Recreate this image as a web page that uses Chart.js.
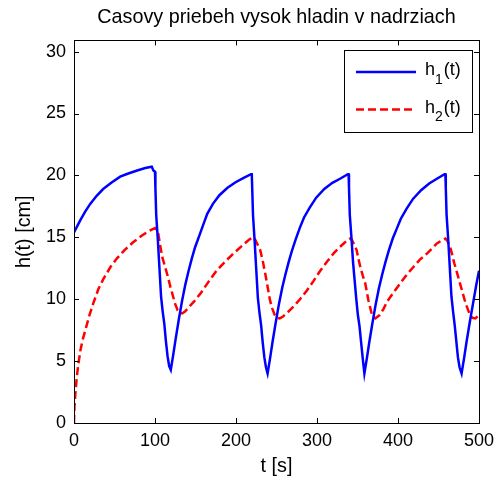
<!DOCTYPE html>
<html><head><meta charset="utf-8">
<script src="https://cdn.jsdelivr.net/npm/chart.js@4"></script>
<style>html,body{margin:0;padding:0;background:#fff}canvas{display:block}</style>
</head><body>
<canvas id="c" width="502" height="479"></canvas>
<script>
const h1Time = [0,4,8,14,20,28,36,46,57,67,78,88,96,98,100,
  100.5,101.5,103.5,105.5,107.5,109.5,111.5,113.5,115.5,117.5,119.5,
  122.5,125.5,129.5,133.5,137.5,141.5,145.5,149.5,154.5,159.5,164.5,171.5,179.5,189.5,199.5,209.5,218.5,219.5,
  220,221,223,225,227,229,231,233,235,237,239,
  242,245,249,253,257,261,265,269,274,279,284,291,299,309,319,329,338,339,
  339.5,340.5,342.5,344.5,346.5,348.5,350.5,352.5,354.5,356.5,358.5,
  361.5,364.5,368.5,372.5,376.5,380.5,384.5,388.5,393.5,398.5,403.5,410.5,418.5,428.5,438.5,448.5,457.5,458.5,
  459,460,462,464,466,468,470,472,474,476,478.5,
  481.5,484.5,488.5,492.5,496.5,500];
const h1Values = [15.4,15.9,16.4,17.1,17.7,18.35,18.9,19.4,19.9,20.15,20.4,20.6,20.7,20.4,20.3,
  19.0,16.8,14.8,12.5,10.2,9.0,8.0,6.6,5.4,4.6,4.3,
  5.5,6.8,8.4,9.9,11.2,12.3,13.3,14.2,15.1,16.0,16.9,17.7,18.4,19.0,19.45,19.8,20.1,20.1,
  19.0,16.8,14.7,12.4,10.1,8.9,7.9,6.5,5.3,4.5,4.0,
  5.2,6.5,8.1,9.6,10.9,12.0,13.0,13.9,14.9,15.8,16.6,17.4,18.2,18.9,19.4,19.75,20.1,20.1,
  19.0,16.8,15.0,13.0,11.5,10.0,8.7,7.8,6.5,5.2,4.0,
  5.2,6.5,8.1,9.6,10.9,12.0,13.0,13.9,14.9,15.7,16.5,17.3,18.1,18.8,19.35,19.75,20.1,20.1,
  19.0,16.8,14.8,12.5,10.2,9.0,7.9,6.6,5.3,4.5,4.0,
  5.2,6.5,8.1,9.6,11.1,12.3];
const h2Time = [0,0.5,1.5,3,5,8,11,14,19,24,30,36,45,53,63,73,83,92,100,
  102,104,106.5,109,112.5,116,119,122,125,128,131,133.5,137,141,148,156,166,176,186,197,208,216,221,
  223,226,230,233,236,239,242,245,248,251,254,258,264,271,279,287.5,296,304,312,320.5,327,333,338,341,
  343,346,349,351,353.5,356.5,359.5,363.5,368,372,377,382,386.5,394,403,411,419,427,436,442,448,454,458.5,
  461,464,466.5,469.5,473,476,479,482,485,489,492,495.5,500];
const h2Values = [0,1.2,2.2,3.4,4.6,5.9,6.8,7.5,8.7,9.7,10.8,11.6,12.6,13.3,14.0,14.6,15.1,15.5,15.75,
  15.6,15.3,14.3,13.4,12.6,11.8,11.0,10.3,9.6,9.1,8.9,8.85,9.0,9.3,9.8,10.45,11.4,12.3,13.0,13.7,14.35,14.8,15.0,
  14.9,14.5,13.95,13.1,12.1,11.0,9.9,9.2,8.7,8.5,8.45,8.6,8.95,9.4,10.0,10.7,11.5,12.3,13.0,13.7,14.15,14.5,14.8,14.9,
  14.8,14.4,13.95,13.3,12.6,11.9,11.3,9.9,8.7,8.45,8.7,9.2,9.8,10.5,11.3,12.0,12.6,13.2,13.7,14.1,14.5,14.75,14.9,
  14.7,14.3,13.7,12.9,12.1,11.4,10.7,10.0,9.4,8.7,8.5,8.45,8.72];
const xTicks = [0,100,200,300,400,500];
const yTicks = [0,5,10,15,20,25,30];
const seriesNames = ['h', 'h'];
const seriesSubs = ['1', '2'];
const seriesSuffix = ['(t)', '(t)'];
const titleText = 'Casovy priebeh vysok hladin v nadrziach';
const xLabel = 't [s]';
const yLabel = 'h(t) [cm]';

const FONT = '"Liberation Sans", Arial, Helvetica, sans-serif';
Chart.defaults.font.family = FONT;
Chart.defaults.color = '#000';

const toPts = (ts, vs) => ts.map((t, i) => ({x: t, y: vs[i]}));

const framePlugin = {
  id: 'frame',
  afterDatasetsDraw(chart) {
    const {ctx, chartArea: a, scales: {x, y}} = chart;
    ctx.save();
    ctx.strokeStyle = '#000';
    ctx.lineWidth = 1;
    const L = 5;
    ctx.beginPath();
    x.ticks.forEach(t => {
      const px = Math.round(x.getPixelForValue(t.value)) + 0.5;
      ctx.moveTo(px, a.bottom); ctx.lineTo(px, a.bottom - L);
      ctx.moveTo(px, a.top); ctx.lineTo(px, a.top + L);
    });
    y.ticks.forEach(t => {
      const py = Math.round(y.getPixelForValue(t.value)) + 0.5;
      ctx.moveTo(a.left, py); ctx.lineTo(a.left + L, py);
      ctx.moveTo(a.right, py); ctx.lineTo(a.right - L, py);
    });
    ctx.stroke();
    ctx.strokeRect(Math.round(a.left) + 0.5, Math.round(a.top) + 0.5,
                   Math.round(a.right - a.left), Math.round(a.bottom - a.top));
    ctx.restore();
  }
};

const legendPlugin = {
  id: 'mlegend',
  afterDraw(chart) {
    const {ctx, chartArea: a} = chart;
    const bx = a.right - 135.5, by = a.top + 10, bw = 128, bh = 81.5;
    ctx.save();
    ctx.fillStyle = '#fff';
    ctx.fillRect(bx, by, bw, bh);
    ctx.strokeStyle = '#000';
    ctx.lineWidth = 1;
    ctx.strokeRect(Math.round(bx) + 0.5, Math.round(by) + 0.5, Math.round(bw), Math.round(bh));
    const rows = [by + 21.5, by + 59];
    chart.data.datasets.forEach((ds, i) => {
      const ly = rows[i];
      ctx.beginPath();
      ctx.strokeStyle = ds.borderColor;
      ctx.lineWidth = ds.borderWidth;
      ctx.setLineDash(ds.borderDash || []);
      ctx.moveTo(bx + 12.5, ly);
      ctx.lineTo(bx + 72.5, ly);
      ctx.stroke();
      ctx.setLineDash([]);
      ctx.fillStyle = '#000';
      ctx.textBaseline = 'alphabetic';
      ctx.textAlign = 'left';
      const tx = bx + 81.5;
      ctx.font = '18px ' + FONT;
      ctx.fillText(seriesNames[i], tx, ly + 3.5);
      const w = ctx.measureText(seriesNames[i]).width;
      ctx.font = '14px ' + FONT;
      ctx.fillText(seriesSubs[i], tx + w, ly + 12);
      const ws = ctx.measureText(seriesSubs[i]).width;
      ctx.font = '18px ' + FONT;
      ctx.fillText(seriesSuffix[i], tx + w + ws + 1, ly + 3.5);
    });
    ctx.restore();
  }
};

new Chart(document.getElementById('c'), {
  type: 'line',
  data: {
    datasets: [
      {label: 'h1(t)', data: toPts(h1Time, h1Values), borderColor: '#0000ff', borderWidth: 2.5,
       pointRadius: 0, tension: 0, fill: false},
      {label: 'h2(t)', data: toPts(h2Time, h2Values), borderColor: '#ff0000', borderWidth: 2.5,
       borderDash: [8, 4], pointRadius: 0, tension: 0, fill: false}
    ]
  },
  options: {
    responsive: false,
    animation: false,
    layout: {padding: {left: 0, right: 23, top: 0, bottom: 0}},
    plugins: {
      legend: {display: false},
      tooltip: {enabled: false},
      title: {display: true, text: titleText, fullSize: false, color: '#000',
              font: {size: 19.8, weight: 'normal'}, padding: {top: 6, bottom: 10.7}}
    },
    scales: {
      x: {
        type: 'linear', min: 0, max: 500,
        afterBuildTicks: s => { s.ticks = xTicks.map(v => ({value: v})); },
        afterFit: s => { s.height = 56; },
        grid: {display: false, drawTicks: false},
        border: {display: false},
        ticks: {font: {size: 18}, color: '#000', padding: 7, maxRotation: 0},
        title: {display: true, text: xLabel, color: '#000', font: {size: 19.8}, padding: {top: 0, bottom: 1}}
      },
      y: {
        type: 'linear', min: 0, max: 30.9,
        afterBuildTicks: s => { s.ticks = yTicks.map(v => ({value: v})); },
        afterFit: s => { s.width = 74; },
        grid: {display: false, drawTicks: false},
        border: {display: false},
        ticks: {font: {size: 18}, color: '#000', padding: 8},
        title: {display: true, text: yLabel, color: '#000', font: {size: 19.8}, padding: {top: 13, bottom: 0}}
      }
    }
  },
  plugins: [framePlugin, legendPlugin]
});
</script>
</body></html>
